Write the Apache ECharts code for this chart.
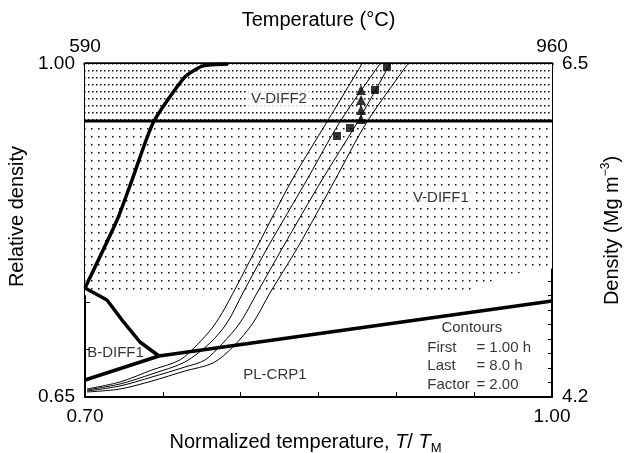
<!DOCTYPE html>
<html>
<head>
<meta charset="utf-8">
<script src="https://cdn.jsdelivr.net/npm/echarts@6/dist/echarts.min.js"></script>
<style>
  html, body { margin: 0; padding: 0; background: #fff; }
  #chart { width: 629px; height: 453px; }
</style>
</head>
<body>
<div id="chart"></div>
<script>
// axis ranges
const normT = [0.70, 1.00]
const relD = [0.65, 1.00]
const tempC = [590, 960]
const densMg = [4.2, 6.5]

// regime boundaries, [T/TM, relative density]
const vdiff2Line = [[0.70, 0.94], [1.00, 0.94]]
const dotsEdge = [[0.70, 0.757], [0.94, 0.757], [0.958, 0.770], [0.981, 0.781], [1.00, 0.785]]
const leftCurve = [[0.700, 0.7646], [0.7206, 0.836], [0.7302, 0.878], [0.7437, 0.938], [0.7642, 0.9864], [0.7758, 0.998], [0.7919, 1.0]]
const bdiffLine = [[0.700, 0.7646], [0.7141, 0.752], [0.7238, 0.7309], [0.7353, 0.7078], [0.7475, 0.6931]]
const plcrpLine = [[0.700, 0.6679], [0.7475, 0.6931], [1.00, 0.751]]

// time contours 1, 2, 4, 8 h
const contour1h = [[0.7013, 0.6584], [0.7225, 0.6658], [0.7430, 0.6784], [0.7610, 0.6889], [0.7719, 0.7047], [0.7822, 0.7236], [0.7899, 0.7435], [0.8105, 0.8077], [0.8330, 0.8781], [0.8554, 0.9390], [0.8779, 1.0]]
const contour2h = [[0.7013, 0.6574], [0.7225, 0.6637], [0.7430, 0.6742], [0.7642, 0.6868], [0.7803, 0.7068], [0.7912, 0.7278], [0.8014, 0.7593], [0.8175, 0.8077], [0.8425, 0.8781], [0.8637, 0.9390], [0.8894, 1.0]]
const contour4h = [[0.7013, 0.6563], [0.7225, 0.6616], [0.7430, 0.6710], [0.7642, 0.6815], [0.7771, 0.6889], [0.7886, 0.7068], [0.7995, 0.7278], [0.8105, 0.7593], [0.8272, 0.8077], [0.8522, 0.8781], [0.8747, 0.9380], [0.8959, 1.0]]
const contour8h = [[0.7013, 0.6553], [0.7225, 0.6584], [0.7430, 0.6668], [0.7642, 0.6773], [0.7822, 0.6857], [0.7950, 0.7026], [0.8079, 0.7278], [0.8188, 0.7593], [0.8368, 0.8077], [0.8606, 0.8781], [0.8811, 0.9390], [0.9074, 1.0]]

// experimental points
const squarePts = [[0.894, 0.997], [0.8863, 0.9727], [0.8702, 0.9327], [0.8619, 0.9243]]
const trianglePts = [[0.8773, 0.9727], [0.8773, 0.9622], [0.8773, 0.9517], [0.8773, 0.9422]]

// region labels
const regionText = ['V-DIFF2', 'V-DIFF1', 'B-DIFF1', 'PL-CRP1']
const regionPos = [[0.8246, 0.963], [0.9286, 0.859], [0.7196, 0.6962], [0.822, 0.673]]
const regionBg = [true, true, false, false]

// contour legend
const legendKeys = ['First', 'Last', 'Factor']
const legendVals = ['= 1.00 h', '= 8.0 h', '= 2.00']
const legendD = [0.7015, 0.6826, 0.6626]

const FONT = '"Liberation Sans", Arial, sans-serif'

function dotPattern (w, h, s) {
  const c = document.createElement('canvas')
  c.width = w
  c.height = h
  const g = c.getContext('2d')
  g.fillStyle = '#fff'
  g.fillRect(0, 0, w, h)
  g.fillStyle = '#111'
  g.fillRect(0, 0, s, s)
  return c
}

function ends (lo, hi, digits) {
  return function (v) {
    if (Math.abs(v - lo) < 1e-6 || Math.abs(v - hi) < 1e-6) return v.toFixed(digits)
    return ''
  }
}

const thick = { color: '#000', width: 3.5 }
const thin = { color: '#000', width: 1 }

function boundary (data, smooth) {
  return { type: 'line', data: data, symbol: 'none', smooth: smooth || 0, lineStyle: thick, silent: true, z: 4 }
}
function contour (data) {
  return { type: 'line', data: data, symbol: 'none', smooth: 0.3, lineStyle: thin, silent: true, z: 3 }
}

const labelData = []
regionText.forEach(function (t, i) {
  labelData.push({
    value: regionPos[i],
    label: {
      formatter: t,
      position: 'inside',
      backgroundColor: regionBg[i] ? '#fff' : 'transparent',
      padding: [1, 3]
    }
  })
})
labelData.push({ value: [0.9485, 0.7225], label: { formatter: 'Contours', position: 'inside' } })
legendKeys.forEach(function (k, i) {
  labelData.push({ value: [0.9196, legendD[i]], label: { formatter: k, position: 'right', distance: 0 } })
  labelData.push({ value: [0.9511, legendD[i]], label: { formatter: legendVals[i], position: 'right', distance: 0 } })
})

const chart = echarts.init(document.getElementById('chart'))
chart.setOption({
  animation: false,
  textStyle: { fontFamily: FONT },
  grid: { left: 85, right: 77, top: 64, bottom: 56, containLabel: false, outerBoundsMode: 'none' },
  xAxis: [
    {
      type: 'value',
      position: 'bottom',
      min: normT[0],
      max: normT[1],
      interval: 0.05,
      name: '{n|Normalized temperature, }{i|T}{n|/ }{i|T}{s|M}',
      nameLocation: 'middle',
      nameGap: 32,
      nameTextStyle: {
        padding: [0, 26, 0, 0],
        rich: {
          n: { fontSize: 20, fontFamily: FONT, color: '#000', lineHeight: 26 },
          i: { fontSize: 20, fontFamily: FONT, fontStyle: 'italic', color: '#000', lineHeight: 26 },
          s: { fontSize: 13, fontFamily: FONT, color: '#000', verticalAlign: 'bottom', lineHeight: 13 }
        }
      },
      axisLine: { lineStyle: { color: '#000', width: 2 } },
      axisTick: { inside: true, length: 5, lineStyle: { color: '#000', width: 1 } },
      axisLabel: { formatter: ends(normT[0], normT[1], 2), fontSize: 19, color: '#000', margin: 10, fontFamily: FONT },
      splitLine: { show: false }
    },
    {
      type: 'value',
      position: 'top',
      min: tempC[0],
      max: tempC[1],
      interval: 10,
      name: 'Temperature (°C)',
      nameLocation: 'middle',
      nameGap: 34,
      nameTextStyle: { fontSize: 20, color: '#000', fontFamily: FONT },
      axisLine: { lineStyle: { color: '#000', width: 3.5 } },
      axisTick: { show: false },
      axisLabel: { formatter: ends(tempC[0], tempC[1], 0), fontSize: 19, color: '#000', margin: 8, fontFamily: FONT },
      splitLine: { show: false }
    }
  ],
  yAxis: [
    {
      type: 'value',
      position: 'left',
      min: relD[0],
      max: relD[1],
      interval: 0.05,
      name: 'Relative density',
      nameLocation: 'middle',
      nameGap: 50,
      nameTextStyle: { fontSize: 20, color: '#000', fontFamily: FONT, padding: [0, 0, 0, 28] },
      axisLine: { lineStyle: { color: '#000', width: 2 } },
      axisTick: { inside: true, length: 5, lineStyle: { color: '#000', width: 1 } },
      axisLabel: { formatter: ends(relD[0], relD[1], 2), fontSize: 19, color: '#000', margin: 10, fontFamily: FONT },
      splitLine: { show: false }
    },
    {
      type: 'value',
      position: 'right',
      min: densMg[0],
      max: densMg[1],
      interval: 0.1,
      name: '{n|Density (Mg m}{p|−3}{n|)}',
      nameLocation: 'middle',
      nameGap: 46,
      nameTextStyle: {
        rich: {
          n: { fontSize: 20, fontFamily: FONT, color: '#000', lineHeight: 26 },
          p: { fontSize: 12, fontFamily: FONT, color: '#000', verticalAlign: 'top', lineHeight: 12 }
        }
      },
      axisLine: { lineStyle: { color: '#000', width: 2 } },
      axisTick: { inside: true, length: 4, lineStyle: { color: '#000', width: 1 } },
      axisLabel: { formatter: ends(densMg[0], densMg[1], 1), fontSize: 19, color: '#000', margin: 10, fontFamily: FONT },
      splitLine: { show: false }
    }
  ],
  series: [
    {
      type: 'line',
      data: dotsEdge,
      symbol: 'none',
      silent: true,
      z: 1,
      lineStyle: { width: 0, opacity: 0 },
      areaStyle: { origin: 'end', opacity: 1, color: { image: dotPattern(7, 8, 1.5), repeat: 'repeat' } }
    },
    {
      type: 'line',
      data: vdiff2Line,
      symbol: 'none',
      silent: true,
      z: 2,
      lineStyle: { color: '#000', width: 3 },
      areaStyle: { origin: 'end', opacity: 1, color: { image: dotPattern(4, 7, 1.5), repeat: 'repeat' } }
    },
    contour(contour1h),
    contour(contour2h),
    contour(contour4h),
    contour(contour8h),
    boundary(leftCurve, 0.2),
    boundary(bdiffLine),
    boundary(plcrpLine),
    {
      type: 'scatter',
      data: squarePts,
      symbol: 'rect',
      symbolSize: 8,
      itemStyle: { color: '#000' },
      z: 5
    },
    {
      type: 'scatter',
      data: trianglePts,
      symbol: 'triangle',
      symbolSize: 10,
      itemStyle: { color: '#000' },
      z: 5
    },
    {
      type: 'scatter',
      data: labelData,
      symbolSize: 1,
      itemStyle: { color: 'transparent' },
      silent: true,
      z: 6,
      label: { show: true, fontSize: 15, color: '#000', fontFamily: FONT }
    }
  ]
})
</script>
</body>
</html>
